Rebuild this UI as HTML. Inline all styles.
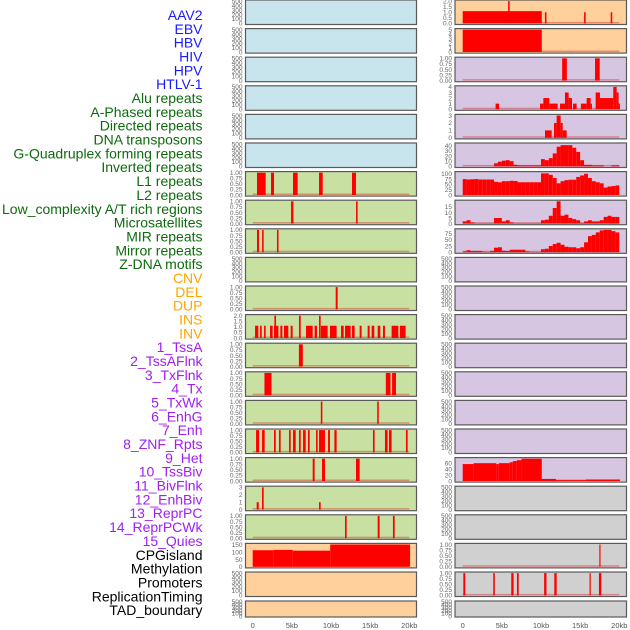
<!DOCTYPE html>
<html><head><meta charset="utf-8"><style>
html,body{margin:0;padding:0;background:#fff;}
svg{display:block;}
</style></head><body>
<svg id="chart" width="630" height="630" viewBox="0 0 630 630" xmlns="http://www.w3.org/2000/svg" font-family="Liberation Sans, sans-serif">
<g id="labels"></g>
<g id="panels"></g>
<g id="xaxes"></g>
</svg>
<script>
// ---- label list ----
const labelNames = ["AAV2","EBV","HBV","HIV","HPV","HTLV-1","Alu repeats","A-Phased repeats","Directed repeats","DNA transposons","G-Quadruplex forming repeats","Inverted repeats","L1 repeats","L2 repeats","Low_complexity A/T rich regions","Microsatellites","MIR repeats","Mirror repeats","Z-DNA motifs","CNV","DEL","DUP","INS","INV","1_TssA","2_TssAFlnk","3_TxFlnk","4_Tx","5_TxWk","6_EnhG","7_Enh","8_ZNF_Rpts","9_Het","10_TssBiv","11_BivFlnk","12_EnhBiv","13_ReprPC","14_ReprPCWk","15_Quies","CPGisland","Methylation","Promoters","ReplicationTiming","TAD_boundary"];
const labelColors = ["#1a1aff","#1a1aff","#1a1aff","#1a1aff","#1a1aff","#1a1aff","#0d6b0d","#0d6b0d","#0d6b0d","#0d6b0d","#0d6b0d","#0d6b0d","#0d6b0d","#0d6b0d","#0d6b0d","#0d6b0d","#0d6b0d","#0d6b0d","#0d6b0d","#ffa500","#ffa500","#ffa500","#ffa500","#ffa500","#a020f0","#a020f0","#a020f0","#a020f0","#a020f0","#a020f0","#a020f0","#a020f0","#a020f0","#a020f0","#a020f0","#a020f0","#a020f0","#a020f0","#a020f0","#000","#000","#000","#000","#000"];

// ---- x axis ----
const xTickValues = [0,5,10,15,20];
const xTickLabels = ["0","5kb","10kb","15kb","20kb"];

// ---- left column data: [startKb, endKb, value] ----
const L6 = [[0.55,1.66,1],[2.34,2.72,1],[5.15,5.74,1],[8.47,8.94,1],[12.68,13.19,1]];
const L7 = [[4.9,5.2,1],[13.2,13.4,1]];
const L8 = [[0.55,0.8,1],[1.2,1.4,1],[3.1,3.3,1]];
const L10 = [[10.6,10.85,1]];
const L11 = [[0.3,0.72,1.1],[0.94,1.15,1.1],[1.45,1.66,1.1],[2.21,2.55,1.1],[2.72,3.28,1.1],[2.77,2.98,2],[3.53,3.79,1.1],[4.0,4.55,1.1],[4.85,5.1,1.1],[5.91,6.13,2],[6.81,7.66,1.1],[7.91,8.21,1.1],[8.47,8.68,2],[8.72,9.57,1.1],[9.87,10.72,1.1],[11.28,11.62,1.1],[11.79,12.51,1.1],[12.68,13.02,1.1],[13.66,13.91,1.1],[14.68,14.94,1.1],[15.19,15.53,1.1],[15.96,16.3,1.1],[16.64,16.89,1.1],[17.74,18.6,1.1],[18.8,19.53,1.1]];
const L12 = [[5.9,6.4,1]];
const L13 = [[1.5,2.4,1],[17.0,17.6,1],[17.8,18.3,1]];
const L14 = [[8.7,8.9,1],[15.9,16.1,1]];
const L15 = [[0.43,0.81,1],[1.19,1.53,1],[2.72,2.94,1],[3.36,3.57,1],[4.64,4.85,1],[5.15,5.49,1],[5.91,6.13,1],[6.43,6.77,1],[7.06,7.28,1],[8.09,8.3,1],[8.47,9.23,1],[9.62,9.87,1],[10.43,10.72,1],[15.36,15.57,1],[16.89,17.23,1],[17.4,17.74,1],[19.57,19.79,1]];
const L16 = [[7.66,7.91,1],[8.85,9.23,1],[13.19,13.66,1]];
const L17 = [[0.51,0.77,1],[1.19,1.4,3],[8.47,8.68,1]];
const L18 = [[11.79,12.0,1],[15.96,16.21,1],[17.91,18.13,1]];
const L19 = [[0,2.7,113],[2.7,5.1,115],[5.1,9.9,110],[9.9,20.1,152]];

// ---- right column data ----
const R0 = [[0,10.1,1.1],[5.8,6.0,2],[10.5,10.7,1],[15.5,15.7,1],[18.9,19.1,1]];
const R1 = [[0,10.1,5]];
const R2 = [[12.7,13.3,1],[16.9,17.5,1]];
const R3 = [[4.2,4.64,1],[9.87,10.3,1],[10.3,11.06,2],[11.06,12.13,1],[12.43,13.06,1],[13.06,13.53,3],[13.53,13.96,2],[14.09,14.55,1],[15.1,15.83,1],[15.83,16.34,2],[16.34,16.51,1],[16.98,17.53,3],[17.53,17.79,2],[17.79,19.23,2],[19.23,19.66,4],[19.66,19.91,3],[19.91,20.08,1]];
const R4 = [[10.51,11.36,1],[11.66,12.0,2],[12.0,12.51,3],[12.51,12.77,2],[12.77,13.28,1]];
// binned profiles, 0.5 kb bins
const R5Vals = [0,0,0,0,0,0,0,0,6,9,11,12,10,3,2,2,2,2,2,2,14,12,16,25,38,41,41,41,36,28,12,3,3,2,2,2,0,0,2,2];
const R6Vals = [75,73,74,75,73,73,73,73,62,60,65,65,67,66,60,60,60,60,60,60,102,102,95,80,55,65,70,72,72,85,92,100,80,65,60,55,35,40,42,45];
const R7Vals = [2,3,1,0.3,0.3,0.3,0.3,0.3,5,5,2,3,1,0.3,0.3,0.3,0.3,0.3,0.3,0.3,3,3.5,7,14,20,7,8,5,4,3,0.5,2,3,2,2,3,6,7,6,6];
const R8Vals = [3,8,5,5,5,2,1,5,18,20,6,5,10,10,10,10,3,1,1,1,12,14,25,33,38,30,22,20,20,16,20,40,65,70,80,88,90,90,85,80];
const R16 = [[0,1.4,57],[1.4,4.3,60],[4.3,4.6,57],[4.6,6.0,60],[6.0,6.4,63],[6.4,6.9,67],[6.9,7.5,70],[7.5,10.1,75],[10.1,11.9,7],[11.9,15.7,3],[15.7,20.1,5]];
const R19 = [[17.45,17.6,1]];
const R20 = [[0.08,0.33,1],[3.9,4.1,1],[6.2,6.5,1],[6.93,7.15,1],[10.4,10.7,1],[11.7,12.0,1],[16.2,16.35,1],[17.4,17.7,1]];

// ---- tick label sets ----
const ticksEmpty = ["0","100","200","300","400","500"];
const ticksUnit = ["0.00","0.25","0.50","0.75","1.00"];

const SVGNS = "http://www.w3.org/2000/svg";
function mk(tag, attrs, parent){
  const e = document.createElementNS(SVGNS, tag);
  for (const k in attrs) e.setAttribute(k, attrs[k]);
  parent.appendChild(e);
  return e;
}
function bins(vals){ return vals.map((v,i)=>[i*0.5,(i+1)*0.5,v]); }

// labels
const gl = document.getElementById('labels');
labelNames.forEach((n,i)=>{
  const t = mk('text',{x:202.5,y:15+i*13.84+5,'text-anchor':'end','font-size':14,fill:labelColors[i]},gl);
  
  
  t.textContent = n;
});

function rowTop(i){ return i<21 ? i*28.6 : 601; }
function rowH(i){ return i<21 ? 24.5 : 16; }

const cols = [
  {x0:245.5, x1:416.5, origin:252.7},
  {x0:455, x1:626.5, origin:462.7}
];
const kbPx = 7.83;
function xScale(col, kb){ return cols[col].origin + kb*kbPx; }

const leftColors = [];
const rightColors = [];
for (let i=0;i<22;i++){
  leftColors.push(i<6?'#c8e4ec':(i<19?'#c8e1a2':'#ffd09c'));
  rightColors.push(i<2?'#ffd09c':(i<17?'#d6c6e2':'#d0d0d0'));
}

// panel specs: [data, yMax, ticks(labels), tickValues]
const leftSpec = {
  6:[L6,1,ticksUnit],7:[L7,1,ticksUnit],8:[L8,1,ticksUnit],
  10:[L10,1,ticksUnit],11:[L11,2,["0.0","0.5","1.0","1.5","2.0"]],
  12:[L12,1,ticksUnit],13:[L13,1,ticksUnit],14:[L14,1,ticksUnit],
  15:[L15,1,ticksUnit],16:[L16,1,ticksUnit],17:[L17,3,["0","1","2","3"]],
  18:[L18,1,ticksUnit],19:[L19,152,["0","50","100","150"]]
};
const rightSpec = {
  0:[R0,2,["0.0","0.5","1.0","1.5","2.0"]],1:[R1,5,["0","1","2","3","4","5"]],
  2:[R2,1,ticksUnit],3:[R3,4,["0","1","2","3","4"]],4:[R4,3,["0","1","2","3"]],
  5:[bins(R5Vals),43,["0","10","20","30","40"]],
  6:[bins(R6Vals),105,["0","25","50","75","100"]],
  7:[bins(R7Vals),20,["0","5","10","15"]],
  8:[bins(R8Vals),90,["0","25","50","75"]],
  16:[R16,75,["0","20","40","60"]],
  19:[R19,1,ticksUnit],20:[R20,1,ticksUnit]
};

const gp = document.getElementById('panels');
function drawPanel(col, row, spec, fill){
  const c = cols[col];
  const top = rowTop(row), h = rowH(row);
  const g = mk('g',{},gp);
  
  
  const bg = mk('rect',{x:c.x0,y:top,width:c.x1-c.x0,height:h,fill:fill},g);
  
  
  let data = [], yMax = 500, ticks = ticksEmpty;
  if (spec){ data = spec[0]; yMax = spec[1]; ticks = spec[2]; }
  const lo = -0.05*yMax, hi = 1.05*yMax;
  const yS = v => top + h - (v-lo)/(hi-lo)*h;
  // tick labels
  ticks.forEach(t=>{
    const v = parseFloat(t);
    const tx = mk('text',{x:c.x0-3,y:yS(v)+2.3,'text-anchor':'end','font-size':6.5,fill:'#666'},g);
    
    
    tx.textContent = t;
  });
  if (spec){
    const bl = mk('rect',{x:xScale(col,0),y:yS(0)-1.5,width:xScale(col,20)-xScale(col,0),height:1.5,fill:'rgba(220,0,0,0.35)'},g);
    
    
  }
  data.forEach(d=>{
    const x1 = xScale(col,d[0]), x2 = xScale(col,d[1]);
    const y1 = yS(d[2]), y0 = yS(0);
    const r = mk('rect',{x:x1,y:y1,width:Math.max(1.2,x2-x1),height:Math.max(0,y0-y1),fill:'#ff0000'},g);
    
    
  });
  const br = mk('rect',{x:c.x0,y:top,width:c.x1-c.x0,height:h,fill:'none',stroke:'#5a5a5a','stroke-width':1.2},g);
  
  
}
for (let r=0;r<22;r++){
  drawPanel(0,r,leftSpec[r],leftColors[r]);
  drawPanel(1,r,rightSpec[r],rightColors[r]);
}

// x axes
const gx = document.getElementById('xaxes');
[0,1].forEach(col=>{
  xTickValues.forEach((v,i)=>{
    const t = mk('text',{x:xScale(col,v),y:628,'text-anchor':'middle','font-size':7.5,fill:'#555'},gx);
    
    
    t.textContent = xTickLabels[i];
  });
});
</script>
</body></html>
